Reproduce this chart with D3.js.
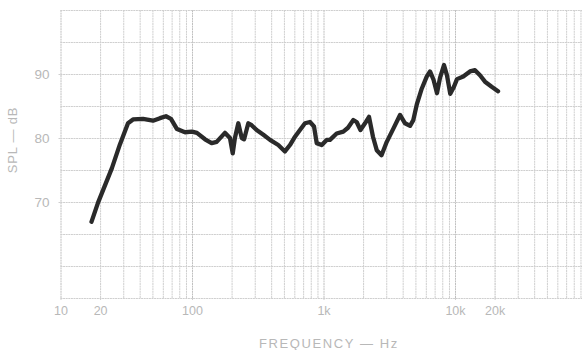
<!DOCTYPE html>
<html>
<head>
<meta charset="utf-8">
<script src="https://cdn.jsdelivr.net/npm/d3@7"></script>
<style>
  html, body { margin: 0; padding: 0; background: #fff; }
  svg { display: block; }
  text { font-family: "Liberation Sans", Arial, sans-serif; }
</style>
</head>
<body>
<svg id="chart" width="582" height="350"></svg>
<script>
// ---- data ----
const freqHz = [17.2, 19.3, 24.6, 28.3, 32.6, 35.6, 42.4, 50.5, 57.1, 63.4, 69.2, 76.9, 88.5,
  100, 109, 125.6, 141, 154, 178, 194.5, 204, 212, 225, 239, 249, 268, 284, 310, 349, 392, 453,
  509, 556, 607, 662, 723, 789, 847, 888, 969, 1057, 1120, 1259, 1415, 1535, 1686, 1787, 1910,
  2069, 2219, 2378, 2540, 2762, 3028, 3405, 3819, 4169, 4550, 4820, 5117, 5585, 6095, 6457,
  6866, 7298, 7690, 8246, 8690, 9204, 9818, 10355, 11561, 13000, 14190, 15490, 16910, 19000, 21240];
const splDb = [66.9, 69.9, 75.3, 79.0, 82.3, 82.9, 83.0, 82.7, 83.1, 83.4, 83.0, 81.4, 80.9,
  81.0, 80.8, 79.8, 79.2, 79.4, 80.8, 80.0, 77.6, 80.0, 82.3, 80.0, 79.8, 82.3, 82.0, 81.25, 80.5, 79.7, 78.9,
  77.9, 78.9, 80.2, 81.25, 82.3, 82.5, 81.8, 79.2, 78.9, 79.7, 79.7, 80.7, 81.0, 81.6, 82.8, 82.5, 81.25,
  82.3, 83.3, 80.2, 78.1, 77.3, 79.4, 81.5, 83.6, 82.3, 81.9, 82.8, 85.2, 87.7, 89.6, 90.4,
  89.1, 87.0, 89.4, 91.4, 89.8, 86.9, 88.0, 89.2, 89.6, 90.4, 90.6, 89.8, 88.8, 88.0, 87.3];

const yTickValues = [70, 80, 90];
const xTickValues = [10, 20, 100, 1000, 10000, 20000];
const xTickLabels = ["10", "20", "100", "1k", "10k", "20k"];
const yGridValues = [55, 60, 65, 70, 75, 80, 85, 90, 95, 100];
const decades = [10, 100, 1000, 10000];
const multipliers = [1, 2, 3, 4, 5, 6, 7, 8, 9];
const xGridValues = decades.flatMap(d => multipliers.map(m => d * m)).concat([100000]);

// ---- scales ----
const svg = d3.select("#chart");
const x = d3.scaleLog().domain([10, 100000]).range([60.5, 586.5]);
const y = d3.scaleLinear().domain([55, 100]).range([298, 10]);

const gridColor = "#cfcfcf";
const textColor = "#b8b8b8";

// vertical grid
const gx = svg.append("g").attr("transform", `translate(0,${y(55)})`)
  .call(d3.axisBottom(x).tickValues(xGridValues).tickSize(-(y(55) - y(100))).tickSizeOuter(0).tickFormat(""));
gx.select(".domain").remove();
gx.selectAll(".tick line").attr("stroke", gridColor).attr("stroke-width", 1)
  .attr("stroke-dasharray", "2,0.6");
gx.selectAll(".tick").filter(d => decades.includes(d) || d === 20000)
  .select("line").attr("stroke", "#c0c0c0");

// horizontal grid
const gy = svg.append("g").attr("transform", `translate(${x(10)},0)`)
  .call(d3.axisLeft(y).tickValues(yGridValues).tickSize(-(586.5 - x(10))).tickSizeOuter(0).tickFormat(""));
gy.select(".domain").remove();
gy.selectAll(".tick line").attr("stroke", gridColor).attr("stroke-width", 1)
  .attr("stroke-dasharray", "2,0.6");

// y labels
const ly = svg.append("g").attr("transform", `translate(${x(10)},0)`)
  .call(d3.axisLeft(y).tickValues(yTickValues).tickSize(2).tickPadding(9).tickFormat(d3.format("d")));
ly.select(".domain").remove();
ly.selectAll(".tick line").attr("stroke", gridColor);
ly.selectAll(".tick text").attr("fill", textColor).attr("font-size", 13.5);

// x labels
const lx = svg.append("g").attr("transform", `translate(0,${y(55)})`)
  .call(d3.axisBottom(x).tickValues(xTickValues).tickSize(2).tickPadding(6)
    .tickFormat((d, i) => xTickLabels[i]));
lx.select(".domain").remove();
lx.selectAll(".tick line").attr("stroke", gridColor);
lx.selectAll(".tick text").attr("fill", textColor).attr("font-size", 12.5);

// axis titles
svg.append("text")
  .attr("x", 329).attr("y", 348)
  .attr("text-anchor", "middle")
  .attr("fill", textColor).attr("font-size", 13).attr("letter-spacing", 1.6)
  .text("FREQUENCY — Hz");
svg.append("text")
  .attr("transform", "translate(17,140) rotate(-90)")
  .attr("text-anchor", "middle")
  .attr("fill", textColor).attr("font-size", 13).attr("letter-spacing", 0.8)
  .text("SPL — dB");

// curve
const pts = freqHz.map((f, i) => [f, splDb[i]]);
svg.append("path")
  .datum(pts)
  .attr("fill", "none")
  .attr("stroke", "#2a2a2a")
  .attr("stroke-width", 4.3)
  .attr("stroke-linejoin", "round")
  .attr("stroke-linecap", "round")
  .attr("d", d3.line().x(d => x(d[0])).y(d => y(d[1])).curve(d3.curveLinear));
</script>
</body>
</html>
